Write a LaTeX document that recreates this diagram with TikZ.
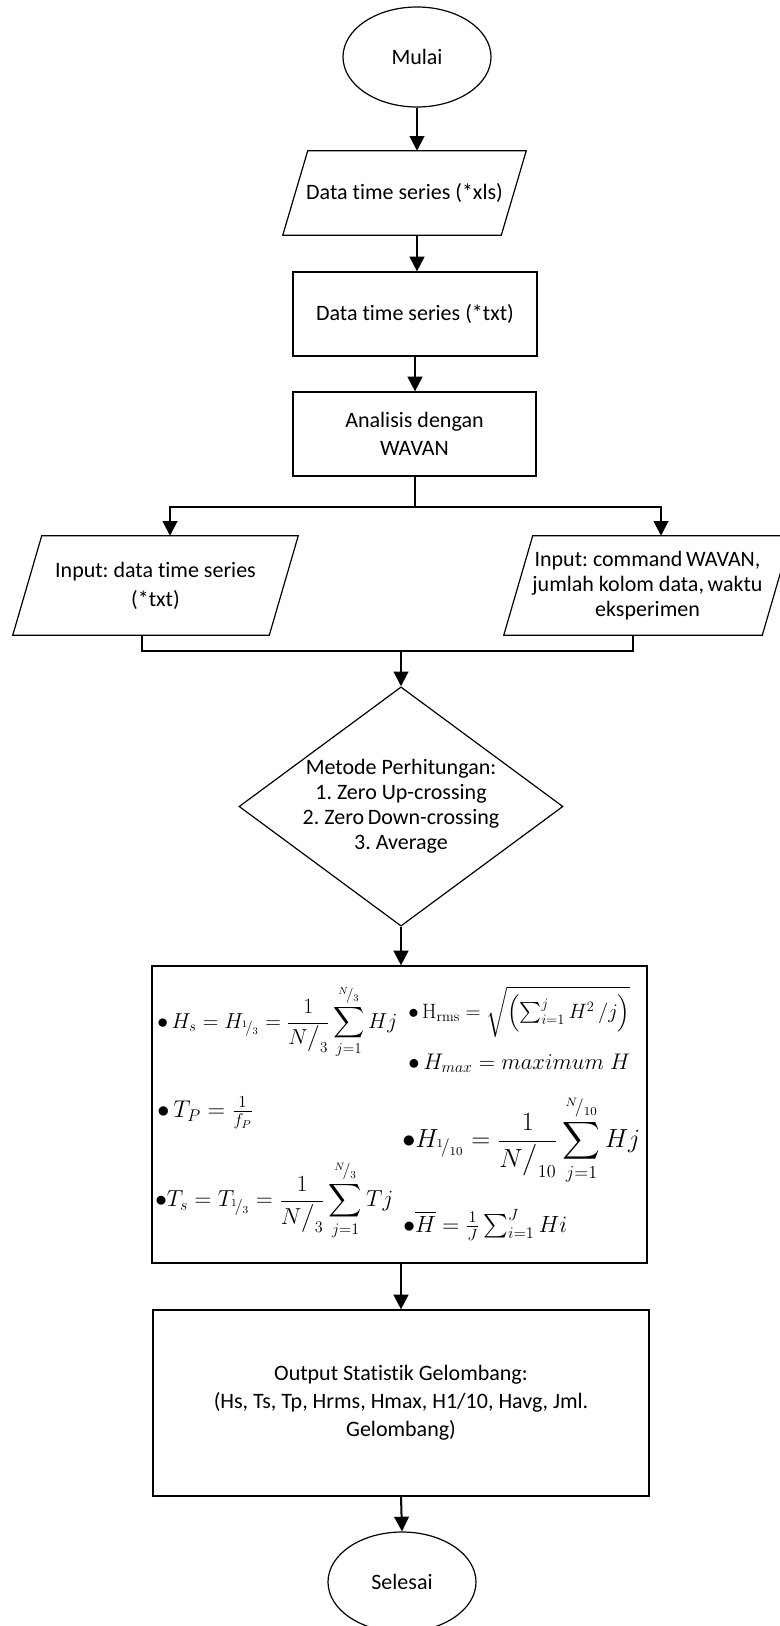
\documentclass[tikz,border=0pt]{standalone}
\usepackage{amsmath}
\usepackage{graphicx}
\usepackage[no-math]{fontspec}
\setmainfont[Ligatures=NoCommon]{Carlito}
\usetikzlibrary{shapes.geometric,arrows.meta}
\newcommand{\slfr}[2]{{}^{#1}\!/_{#2}}
\newcommand{\bigslfr}[2]{{#1}\big/_{#2}}
\frenchspacing
\begin{document}
\begin{tikzpicture}[x=0.75pt,y=-0.75pt,
  every node/.style={font=\fontsize{16.5}{20}\selectfont},
  box/.style={draw, line width=0.9pt, rectangle, inner sep=0pt, align=center},
  term/.style={draw, line width=0.9pt, ellipse, inner sep=0pt, minimum width=111pt, minimum height=75pt},
  io/.style={rectangle, inner sep=0pt, align=center},
  border/.style={line width=0.9pt, line join=miter},
  arr/.style={line width=1.5pt, -{Triangle[length=11pt,width=11pt]}},
  ln/.style={line width=1.5pt},
  fml/.style={anchor=west, inner sep=0pt}]
\useasboundingbox (0,0) rectangle (780,1626);
\clip (0,0) rectangle (780,1626);

% nodes
\node[term] (mulai) at (417,57) {Mulai};
\node[io, minimum width=163.5pt, minimum height=63pt] (xls) at (404.5,193) {Data time series (*xls)};
\draw[border] ([xshift=-9.375pt]xls.south west) -- ([xshift=-9.375pt]xls.south east) -- ([xshift=9.375pt]xls.north east) -- ([xshift=9.375pt]xls.north west) -- cycle;
\node[box, minimum width=183pt, minimum height=63pt] (txt) at (415,314) {Data time series (*txt)};
\node[box, minimum width=182.25pt, minimum height=63pt, font=\fontsize{16.5}{21}\selectfont] (wavan) at (414.5,434) {Analisis dengan\\WAVAN};
\node[io, minimum width=192pt, minimum height=74.25pt, font=\fontsize{16.5}{21.75}\selectfont] (inL) at (155.5,585.5) {Input: data time series\\(*txt)};
\draw[border] ([xshift=-10.875pt]inL.south west) -- ([xshift=-10.875pt]inL.south east) -- ([xshift=10.875pt]inL.north east) -- ([xshift=10.875pt]inL.north west) -- cycle;
\node[io, minimum width=193.5pt, minimum height=74.25pt, font=\fontsize{16.5}{18.75}\selectfont] (inR) at (647.5,585.5) {Input: command\,WAVAN,\\jumlah kolom data,\,waktu\\eksperimen};
\draw[border] ([xshift=-10.875pt]inR.south west) -- ([xshift=-10.875pt]inR.south east) -- ([xshift=10.875pt]inR.north east) -- ([xshift=10.875pt]inR.north west) -- cycle;
\node[diamond, draw, line width=0.9pt, inner sep=0pt, aspect=1.354, minimum width=240.75pt, minimum height=177.75pt, align=center, font=\fontsize{16.5}{18.75}\selectfont] (metode) at (401,806.5) {Metode Perhitungan:\\1. Zero Up-crossing\\2. Zero\,Down-crossing\\3. Average};
\node[box, minimum width=371.25pt, minimum height=222.75pt] (rumus) at (399.5,1114.5) {};
\node[box, minimum width=372pt, minimum height=139.5pt, font=\fontsize{16.5}{21}\selectfont] (output) at (401,1403) {Output Statistik Gelombang:\\(Hs, Ts, Tp, Hrms, Hmax, H1/10, Havg, Jml.\\Gelombang)};
\node[term] (selesai) at (402,1582) {Selesai};

% formulas
\node[fml] (f1) at (157,1022) {\resizebox{180pt}{!}{$\bullet\, H_s = H_{\slfr{1}{3}} = \dfrac{1}{\bigslfr{N}{3}}\displaystyle\sum_{j=1}^{\slfr{N}{3}} Hj$}};
\node[fml] (f2) at (408,1012) {\resizebox{166.5pt}{!}{$\bullet\, \mathrm{H}_{\mathrm{rms}} = \sqrt{\left(\textstyle\sum_{i=1}^{j} H^2\,/j\right)}$}};
\node[fml] (f3) at (408,1063) {\resizebox{166.5pt}{!}{$\bullet\, H_{max} = maximum\; H$}};
\node[fml] (f4) at (157,1113) {\resizebox{72pt}{!}{$\bullet\, T_P = \tfrac{1}{f_P}$}};
\node[fml] (f5) at (402,1140) {\resizebox{178.5pt}{!}{$\bullet H_{\slfr{1}{10}} = \dfrac{1}{\bigslfr{N}{10}}\displaystyle\sum_{j=1}^{\slfr{N}{10}} Hj$}};
\node[fml] (f6) at (155,1200) {\resizebox{178.5pt}{!}{$\bullet T_s = T_{\slfr{1}{3}} = \dfrac{1}{\bigslfr{N}{3}}\displaystyle\sum_{j=1}^{\slfr{N}{3}} Tj$}};
\node[fml] (f7) at (403,1225) {\resizebox{123pt}{!}{$\bullet \overline{H} = \tfrac{1}{J}\textstyle\sum_{i=1}^{J} Hi$}};

% helper coordinates
\coordinate (fork) at (414.5,507);
\coordinate (aL) at (170,507);
\coordinate (aR) at (661,507);
\coordinate (mL) at (142,651);
\coordinate (mR) at (633,651);
\coordinate (merge) at (401,651);

% connectors
\draw[arr] (mulai.south) -- (mulai.south |- xls.north);
\draw[arr] (xls.south -| mulai.south) -- (txt.north -| mulai.south);
\draw[arr] (txt.south) -- (txt.south |- wavan.north);
\draw[ln] (wavan.south) -- (fork);
\draw[arr] (fork) -| (aL |- inL.north);
\draw[arr] (fork) -| (aR |- inR.north);
\draw[ln] (mL |- inL.south) |- (mR) -- (mR |- inR.south);
\draw[arr] (merge) -- (metode.north);
\draw[arr] (metode.south) -- (metode.south |- rumus.north);
\draw[arr] (rumus.south -| output.north) -- (output.north);
\draw[arr] (output.south) -- (selesai.north);
\end{tikzpicture}
\end{document}
